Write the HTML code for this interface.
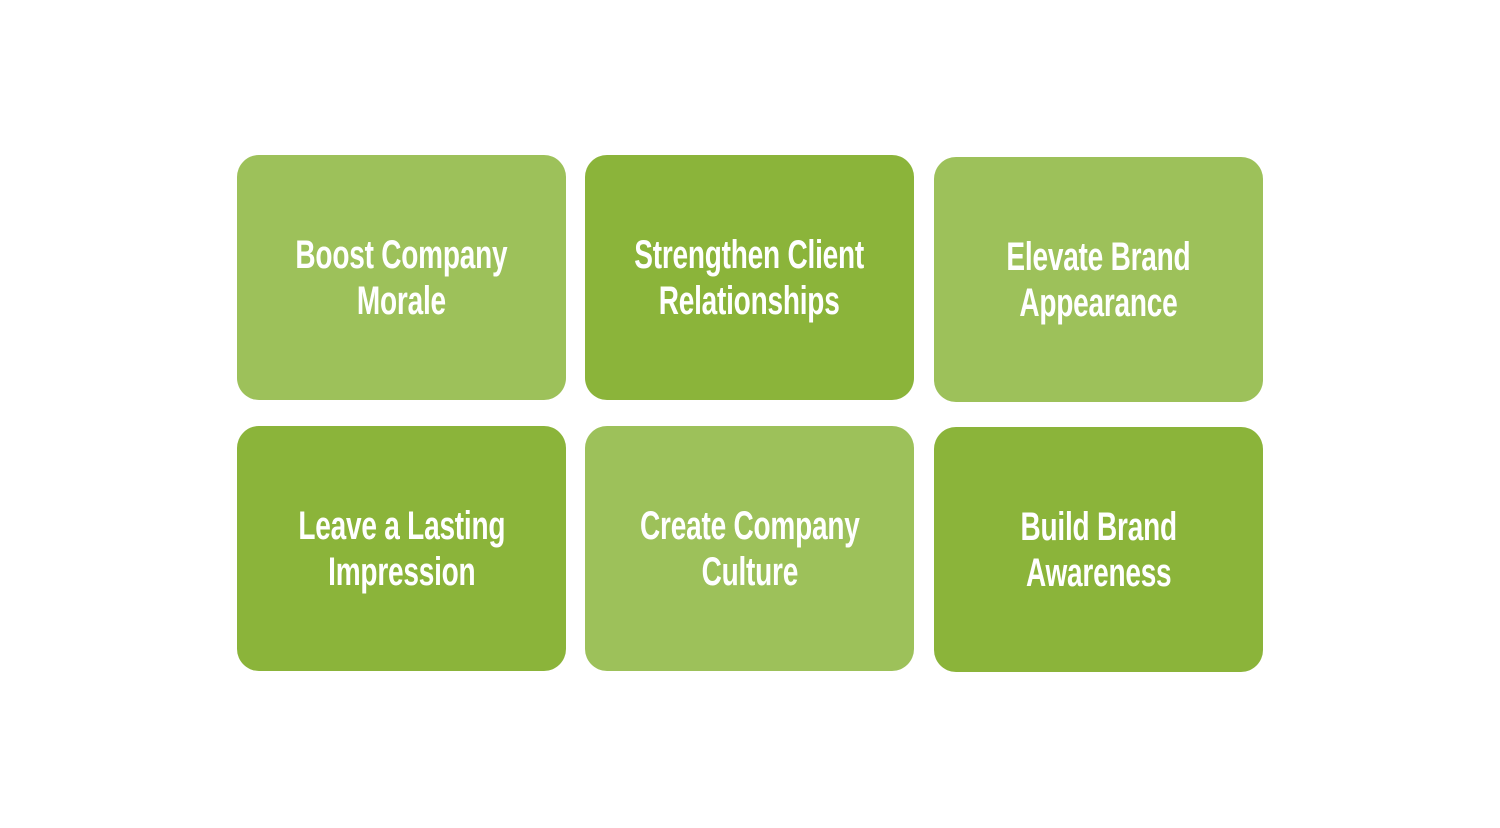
<!DOCTYPE html>
<html><head><style>
body{margin:0;width:1500px;height:828px;background:#fff;position:relative;overflow:hidden;font-family:"Liberation Sans",sans-serif}
.b{position:absolute;width:329px;height:245px;border-radius:22px;display:flex;align-items:center;justify-content:center;text-align:center}
.l{background:#9dc15a}.d{background:#8bb43a}
.t{color:#fff;font-weight:bold;font-size:40px;line-height:46px;transform:scaleX(0.7);white-space:nowrap;letter-spacing:-0.3px}
</style></head><body>
<div class="b l" style="left:237px;top:155px"><div class="t">Boost Company<br>Morale</div></div>
<div class="b d" style="left:585px;top:155px"><div class="t">Strengthen Client<br>Relationships</div></div>
<div class="b l" style="left:934px;top:157px"><div class="t">Elevate Brand<br>Appearance</div></div>
<div class="b d" style="left:237px;top:426px"><div class="t">Leave a Lasting<br>Impression</div></div>
<div class="b l" style="left:585px;top:426px"><div class="t">Create Company<br>Culture</div></div>
<div class="b d" style="left:934px;top:427px"><div class="t">Build Brand<br>Awareness</div></div>
</body></html>
